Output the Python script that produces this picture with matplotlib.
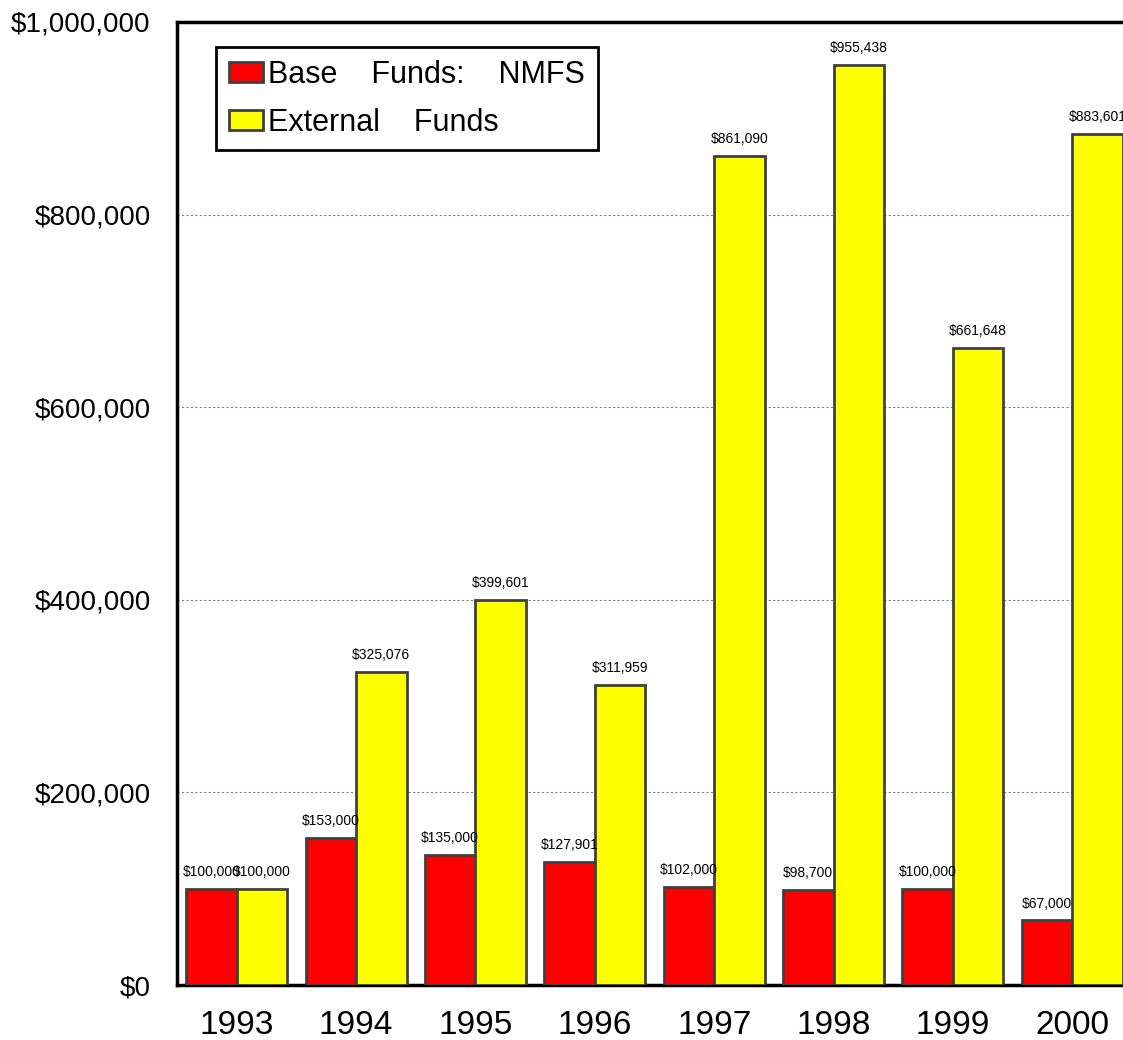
import matplotlib
matplotlib.use("Agg")
import matplotlib.pyplot as plt
from matplotlib.ticker import FuncFormatter

years = ["1993", "1994", "1995", "1996", "1997", "1998", "1999", "2000"]
base_funds = [100000, 153000, 135000, 127901, 102000, 98700, 100000, 67000]
external_funds = [100000, 325076, 399601, 311959, 861090, 955438, 661648, 883601]
series_names = ["Base    Funds:    NMFS", "External    Funds"]
yticks = [0, 200000, 400000, 600000, 800000, 1000000]

plt.rcParams['font.family'] = ['Liberation Sans', 'DejaVu Sans']

fig = plt.figure(figsize=(11.23, 10.40), dpi=100)
ax = fig.add_axes([177/1123, 55/1040, 955/1123, 963/1040])

w = 0.423
x = list(range(len(years)))
edge = '#404040'
b1 = ax.bar([i - w/2 for i in x], base_funds, width=w, color='#FF0000',
            edgecolor=edge, linewidth=2, label=series_names[0], zorder=3)
b2 = ax.bar([i + w/2 for i in x], external_funds, width=w, color='#FFFF00',
            edgecolor=edge, linewidth=2, label=series_names[1], zorder=3)

for bars, vals in ((b1, base_funds), (b2, external_funds)):
    for rect, v in zip(bars, vals):
        ax.annotate(f"${v:,}", (rect.get_x() + rect.get_width()/2, v),
                    xytext=(0, 7), textcoords='offset points',
                    ha='center', va='bottom', fontsize=10, zorder=4)

ax.set_xlim(-0.5, 7.5)
ax.set_ylim(0, 1000000)
ax.set_yticks(yticks)
ax.yaxis.set_major_formatter(FuncFormatter(lambda v, p: f"${int(v):,}"))
ax.set_xticks(x)
ax.set_xticklabels(years)
ax.tick_params(axis='y', length=0, pad=19, labelsize=20)
ax.tick_params(axis='x', length=0, pad=18, labelsize=24)

for yv in yticks[1:-1]:
    ax.axhline(yv, color='#808080', linestyle=(0, (2, 2)), linewidth=0.8, zorder=1)

for s in ax.spines.values():
    s.set_linewidth(2.5)
    s.set_color('black')
ax.spines['right'].set_visible(False)

leg = ax.legend(loc='upper left', bbox_to_anchor=(0.041, 0.974), borderaxespad=0,
                fontsize=22, fancybox=False, framealpha=1, edgecolor='black',
                handlelength=1.12, handleheight=0.66, handletextpad=0.16,
                labelspacing=0.58, borderpad=0.42)
leg.get_frame().set_linewidth(2)

fig.savefig("out.png", dpi=100)
